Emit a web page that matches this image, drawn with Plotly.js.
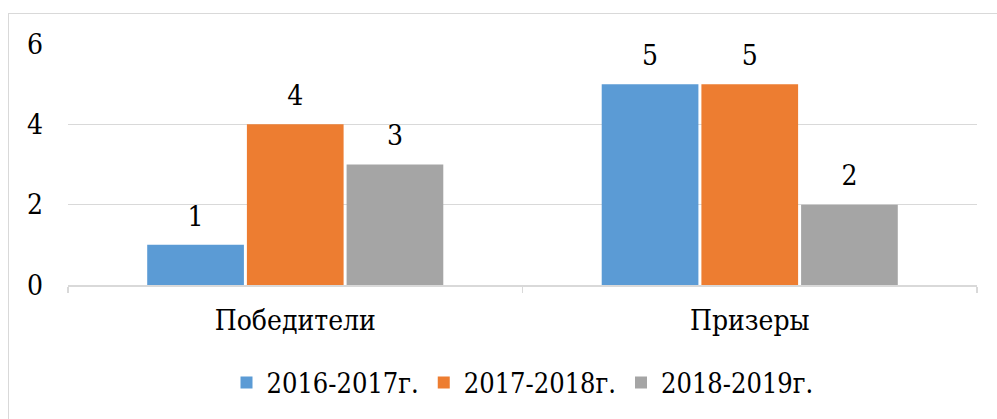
<!DOCTYPE html>
<html>
<head>
<meta charset="utf-8">
<script src="https://cdn.plot.ly/plotly-3.0.1.min.js"></script>
<style>
  html, body { margin: 0; padding: 0; background: #ffffff; }
  #wrap { position: relative; width: 997px; height: 419px; overflow: hidden; }
  #chart { position: absolute; left: 0; top: 0; width: 997px; height: 419px; }
  #frame { position: absolute; left: 8px; top: 13px; width: 1000px; height: 500px;
           border: 1px solid #d9d9d9; pointer-events: none; box-sizing: border-box; }
</style>
</head>
<body>
<div id="wrap">
  <div id="chart"></div>
  <div id="frame"></div>
</div>
<script>
const categories = ["Победители", "Призеры"];
const seriesNames = ["2016-2017г.", "2017-2018г.", "2018-2019г."];
const values2016 = [1, 5];
const values2017 = [4, 5];
const values2018 = [3, 2];
const yTicks = [0, 2, 4, 6];

const seriesValues = [values2016, values2017, values2018];
const colors = ["#5B9BD5", "#ED7D31", "#A5A5A5"];
const FONT = "DejaVu Serif Condensed, DejaVu Serif";

const traces = [];
seriesValues.forEach((vals, i) => {
  traces.push({
    type: "bar",
    name: seriesNames[i],
    x: categories,
    y: vals,
    offsetgroup: "g" + i,
    marker: { color: colors[i], line: { width: 0 } },
    hoverinfo: "skip"
  });
});
seriesValues.forEach((vals, i) => {
  traces.push({
    type: "scatter",
    mode: "markers+text",
    x: categories,
    y: vals,
    offsetgroup: "g" + i,
    text: vals.map(String),
    textposition: "top center",
    textfont: { family: FONT, size: 28, color: "#000000" },
    marker: { size: 18, color: "rgba(0,0,0,0)" },
    showlegend: false,
    hoverinfo: "skip",
    cliponaxis: false
  });
});

const layout = {
  width: 997,
  height: 419,
  margin: { l: 68, r: 20, t: 44, b: 134 },
  paper_bgcolor: "#ffffff",
  plot_bgcolor: "#ffffff",
  font: { family: FONT, size: 28, color: "#000000" },
  barmode: "group",
  scattermode: "group",
  bargap: 0.342,
  bargroupgap: 0.03,
  showlegend: true,
  legend: {
    orientation: "h",
    x: 0.5,
    xanchor: "center",
    y: -0.305,
    yanchor: "top",
    font: { family: FONT, size: 27, color: "#000000" },
    itemwidth: 30,
    traceorder: "normal"
  },
  xaxis: {
    type: "category",
    showline: true,
    linecolor: "#d9d9d9",
    linewidth: 1.5,
    ticks: "outside",
    tickson: "boundaries",
    ticklen: 6,
    tickcolor: "#d9d9d9",
    tickwidth: 1.5,
    ticklabelstandoff: 10,
    showgrid: false,
    zeroline: false,
    tickfont: { family: FONT, size: 28, color: "#000000" }
  },
  yaxis: {
    range: [0, 6],
    tickvals: yTicks,
    ticktext: yTicks.map(String),
    showgrid: true,
    gridcolor: "#d9d9d9",
    gridwidth: 1.5,
    zeroline: false,
    showline: false,
    ticks: "",
    ticklabelstandoff: 24,
    tickfont: { family: FONT, size: 28, color: "#000000" }
  }
};

Plotly.newPlot("chart", traces, layout, { staticPlot: true, displayModeBar: false });
</script>
</body>
</html>
